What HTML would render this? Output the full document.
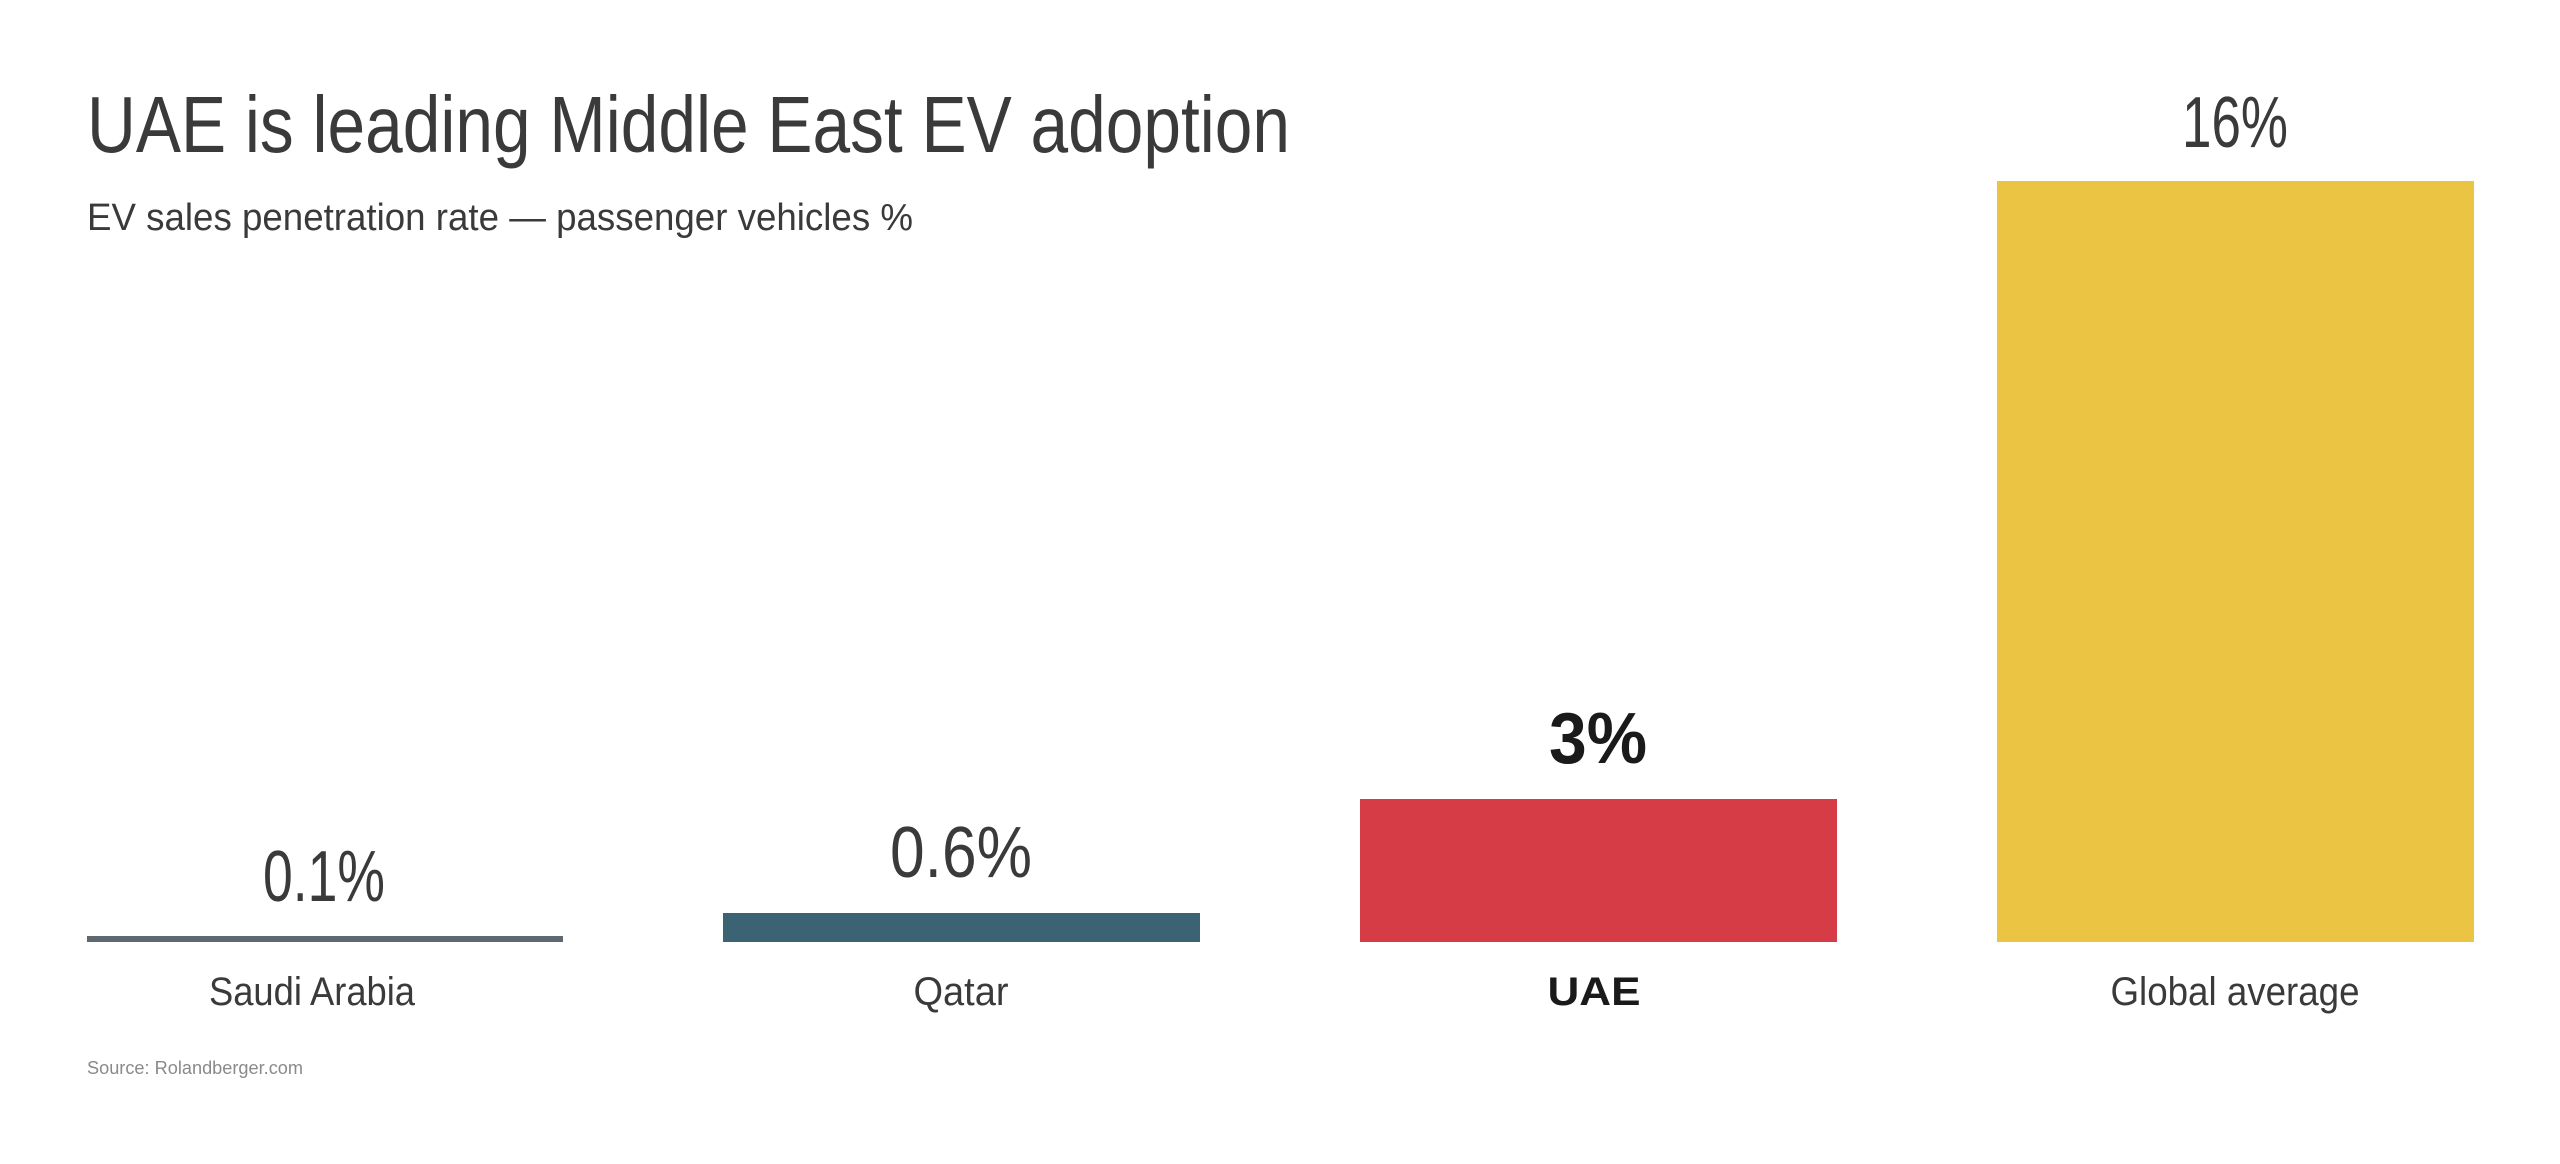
<!DOCTYPE html>
<html><head><meta charset="utf-8"><style>
html,body{margin:0;padding:0;background:#fff;}
svg{display:block;}
text{font-family:"Liberation Sans",sans-serif;}
</style></head><body>
<svg width="2560" height="1164" viewBox="0 0 2560 1164" xmlns="http://www.w3.org/2000/svg">
<rect width="2560" height="1164" fill="#fff"/>
<text x="87" y="152" font-size="80" fill="#3a3a3a" textLength="1203" lengthAdjust="spacingAndGlyphs">UAE is leading Middle East EV adoption</text>
<text x="87" y="230" font-size="38" fill="#3a3a3a" textLength="826" lengthAdjust="spacingAndGlyphs">EV sales penetration rate — passenger vehicles %</text>

<rect x="87" y="936" width="476" height="6" fill="#5f6770"/>
<rect x="723" y="913" width="477" height="29" fill="#3c6374"/>
<rect x="1360" y="799" width="477" height="143" fill="#d63c45"/>
<rect x="1997" y="181" width="477" height="761" fill="#ecc443"/>

<text x="324" y="901" font-size="72" fill="#3a3a3a" text-anchor="middle" textLength="122" lengthAdjust="spacingAndGlyphs">0.1%</text>
<text x="961" y="877" font-size="72" fill="#3a3a3a" text-anchor="middle" textLength="142" lengthAdjust="spacingAndGlyphs">0.6%</text>
<text x="1598" y="763" font-size="72" font-weight="bold" fill="#1a1a1a" text-anchor="middle" textLength="98" lengthAdjust="spacingAndGlyphs">3%</text>
<text x="2235" y="147" font-size="72" fill="#3a3a3a" text-anchor="middle" textLength="106" lengthAdjust="spacingAndGlyphs">16%</text>

<text x="312" y="1005" font-size="40" fill="#3a3a3a" text-anchor="middle" textLength="206" lengthAdjust="spacingAndGlyphs">Saudi Arabia</text>
<text x="961" y="1005" font-size="40" fill="#3a3a3a" text-anchor="middle" textLength="95" lengthAdjust="spacingAndGlyphs">Qatar</text>
<text x="1594" y="1005" font-size="40" font-weight="bold" fill="#1a1a1a" text-anchor="middle" textLength="93" lengthAdjust="spacingAndGlyphs">UAE</text>
<text x="2235" y="1005" font-size="40" fill="#3a3a3a" text-anchor="middle" textLength="249" lengthAdjust="spacingAndGlyphs">Global average</text>

<text x="87" y="1074" font-size="18" fill="#8a8a8a" textLength="216" lengthAdjust="spacingAndGlyphs">Source: Rolandberger.com</text>
</svg>
</body></html>
